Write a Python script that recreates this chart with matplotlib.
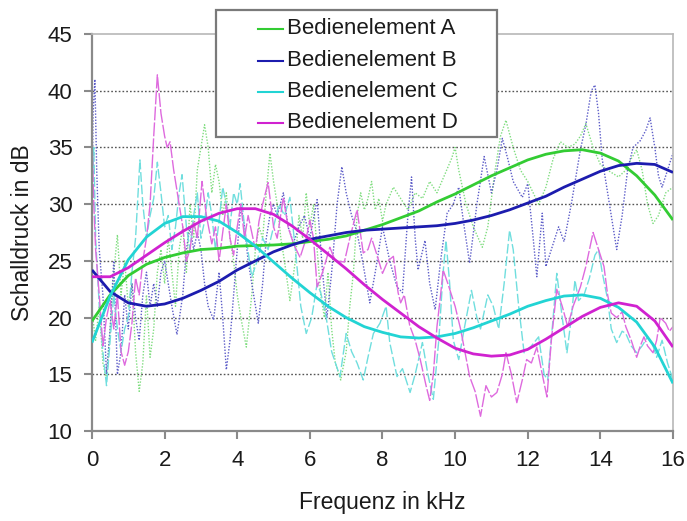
import matplotlib
matplotlib.use("Agg")
import matplotlib.pyplot as plt
from matplotlib.patches import Rectangle
from matplotlib.lines import Line2D

plt.rcParams["font.family"] = ["Liberation Sans", "DejaVu Sans"]

labels = ["Bedienelement A", "Bedienelement B", "Bedienelement C", "Bedienelement D"]

# Measured spectra (kHz, dB)
freq_a = [0.0, 0.1, 0.2, 0.3, 0.4, 0.5, 0.6, 0.7, 0.8, 0.9, 1.0, 1.1, 1.2, 1.3, 1.4, 1.5,
          1.6, 1.7, 1.8, 1.9, 2.0, 2.1, 2.2, 2.3, 2.4, 2.5, 2.6, 2.7, 2.8, 2.9, 3.0, 3.1,
          3.2, 3.3, 3.4, 3.5, 3.6, 3.7, 3.8, 3.9, 4.0, 4.1, 4.25, 4.4, 4.5, 4.6, 4.7, 4.8,
          4.9, 5.0, 5.1, 5.2, 5.3, 5.45, 5.6, 5.7, 5.8, 5.9, 6.0, 6.1, 6.2, 6.3, 6.4, 6.5,
          6.6, 6.7, 6.85, 7.0, 7.1, 7.2, 7.3, 7.4, 7.5, 7.6, 7.7, 7.8, 7.9, 8.0, 8.1, 8.3,
          8.5, 8.7, 8.9, 9.1, 9.3, 9.5, 9.7, 9.9, 10.0, 10.1, 10.3, 10.5, 10.75, 10.9, 11.1,
          11.25, 11.4, 11.6, 11.8, 12.0, 12.3, 12.5, 12.7, 12.9, 13.1, 13.3, 13.45, 13.6,
          13.8, 14.0, 14.2, 14.5, 14.7, 14.85, 15.0, 15.15, 15.3, 15.45, 15.6, 15.8, 16.0]
spl_a = [20.5, 18, 21, 16, 14.5, 19, 24, 27.3, 22, 25, 21, 23, 17, 13.5, 16, 22,
         16.5, 19, 24, 26, 23, 27, 24, 21, 26, 28, 24, 30, 27, 33, 35, 37,
         35, 31, 33.5, 32, 29, 31, 27, 25, 22, 20, 17.4, 22, 26, 28, 27, 31,
         34.5, 32, 30, 27, 25, 21.5, 25, 29, 27, 31, 28, 30, 26, 22, 20, 24,
         19, 16, 14.5, 17, 21, 24, 29, 31, 29.5, 30.5, 32, 29.5, 30.5, 28.5, 30, 31.5,
         30.5, 29.5, 31, 30.5, 32, 31, 32.5, 34, 35, 33, 30, 28, 26.2, 28, 33,
         36, 37.4, 35, 33, 32, 30, 31.5, 34, 35.5, 35, 35.3, 36, 37.1,
         35, 33.5, 33, 32.4, 33, 34, 34.8, 33, 30, 28.3, 29, 31, 31.5]

freq_b = [0.0, 0.03, 0.08, 0.13, 0.2, 0.3, 0.4, 0.5, 0.6, 0.7, 0.8, 0.9, 1.0, 1.1, 1.2,
          1.3, 1.4, 1.5, 1.6, 1.7, 1.8, 1.9, 2.0, 2.1, 2.2, 2.34, 2.5, 2.6, 2.7, 2.8, 2.9,
          3.0, 3.1, 3.2, 3.35, 3.5, 3.6, 3.7, 3.8, 3.9, 4.0, 4.1, 4.2, 4.3, 4.4, 4.58,
          4.7, 4.8, 4.9, 5.0, 5.1, 5.27, 5.4, 5.55, 5.7, 5.85, 6.0, 6.2, 6.35, 6.47, 6.6,
          6.75, 6.88, 7.0, 7.15, 7.3, 7.45, 7.65, 7.8, 8.0, 8.2, 8.4, 8.55, 8.7, 8.8, 8.9,
          8.98, 9.17, 9.3, 9.45, 9.6, 9.78, 9.95, 10.1, 10.25, 10.4, 10.6, 10.8, 11.0,
          11.15, 11.3, 11.45, 11.6, 11.85, 12.0, 12.15, 12.25, 12.4, 12.5, 12.65, 12.85,
          13.0, 13.2, 13.45, 13.6, 13.75, 13.85, 13.95, 14.05, 14.2, 14.35, 14.45, 14.6,
          14.75, 14.9, 15.1, 15.25, 15.37, 15.5, 15.6, 15.7, 15.85, 16.0]
spl_b = [30, 38, 41, 33, 26, 22, 15, 19, 25, 15, 17, 22, 19, 23, 20,
         18, 22, 24, 21, 23, 21, 24, 25, 23, 21, 18.5, 22, 26, 28, 26, 27.5,
         26, 23, 21, 19.8, 24, 20, 15.4, 18, 22, 26, 30, 28, 25, 23, 19.5,
         23, 27, 29, 30, 29, 31, 28, 26.6, 28, 29, 27, 30.4, 24, 20, 24,
         30, 33.3, 31, 29, 27.5, 25, 21.3, 24, 28, 25, 22.7, 22.2, 29, 32.4, 27,
         24.2, 26.8, 23, 20.7, 25, 29.2, 30, 31.5, 28, 24.8, 30, 34.2, 31,
         33, 35.8, 34, 32, 30.6, 31.8, 27, 23.6, 29.2, 24.5, 26, 28,
         26.7, 30, 34.8, 37, 40, 40.5, 38, 34, 31, 28, 26, 29,
         33, 35, 35.6, 36.5, 37.6, 35, 32.5, 31.5, 33, 34.5]

freq_c = [0.0, 0.05, 0.1, 0.2, 0.3, 0.4, 0.5, 0.6, 0.7, 0.8, 0.9, 1.0, 1.1, 1.2, 1.32,
          1.4, 1.5, 1.6, 1.7, 1.8, 1.9, 2.0, 2.1, 2.2, 2.3, 2.4, 2.48, 2.6, 2.7, 2.8, 2.9,
          3.0, 3.1, 3.2, 3.3, 3.4, 3.5, 3.6, 3.7, 3.8, 3.9, 4.0, 4.08, 4.2, 4.4, 4.55,
          4.7, 4.85, 5.0, 5.15, 5.3, 5.45, 5.6, 5.75, 5.9, 6.05, 6.2, 6.3, 6.45, 6.6,
          6.83, 7.0, 7.15, 7.3, 7.47, 7.6, 7.75, 7.93, 8.1, 8.2, 8.4, 8.55, 8.76, 8.9,
          9.1, 9.25, 9.4, 9.55, 9.67, 9.75, 9.85, 9.95, 10.1, 10.25, 10.45, 10.6, 10.7,
          10.9, 11.05, 11.2, 11.35, 11.5, 11.6, 11.75, 11.9, 12.1, 12.3, 12.45, 12.55,
          12.7, 12.8, 12.95, 13.08, 13.2, 13.3, 13.4, 13.55, 13.7, 13.85, 13.95, 14.05,
          14.2, 14.3, 14.45, 14.6, 14.7, 14.85, 15.0, 15.15, 15.3, 15.45, 15.55, 15.7,
          15.85, 16.0]
spl_c = [31, 35, 27, 21, 17, 14, 18, 22, 19, 17, 19, 20, 24, 27, 33.9,
         30, 27, 29, 30.5, 33.7, 31, 28, 29, 26, 28, 31, 32.6, 28, 26, 29, 31,
         27, 28.5, 31, 29, 26, 28.5, 31.5, 30, 28, 31, 30, 31.8, 28, 23.6, 25,
         27, 26, 28, 30, 29, 30.6, 26, 21, 18.6, 20, 23, 22.2, 20, 17,
         14.8, 18.6, 17, 16, 14.5, 16.5, 18.6, 19.5, 21, 17.8, 14.8, 15.5, 13.4, 15,
         17.8, 15, 12.8, 18, 24, 26.8, 23, 18, 16.3, 19, 22.4, 20, 19,
         22, 21, 19, 23, 27.7, 26, 21, 16.9, 17.5, 18.3, 15, 14.5,
         20, 23.9, 20, 16.9, 20, 23.3, 21.5, 22, 23.5, 25.5, 26, 24,
         21.6, 19, 17.8, 18.8, 18.6, 17.5, 16.9, 17.5, 18.3, 17.5, 16.5, 18,
         16, 14.5]

freq_d = [0.0, 0.05, 0.1, 0.2, 0.3, 0.4, 0.5, 0.6, 0.7, 0.8, 0.9, 1.0, 1.1, 1.2, 1.3,
          1.4, 1.5, 1.6, 1.7, 1.8, 1.9, 2.0, 2.07, 2.15, 2.25, 2.4, 2.5, 2.6, 2.7, 2.8,
          2.9, 3.03, 3.15, 3.3, 3.4, 3.5, 3.6, 3.7, 3.8, 3.9, 4.0, 4.1, 4.2, 4.3, 4.4,
          4.5, 4.6, 4.7, 4.85, 5.0, 5.1, 5.27, 5.4, 5.55, 5.73, 5.9, 6.0, 6.1, 6.2, 6.35,
          6.55, 6.7, 6.95, 7.1, 7.3, 7.47, 7.6, 7.7, 7.85, 8.0, 8.15, 8.3, 8.43, 8.5,
          8.6, 8.75, 8.9, 9.04, 9.2, 9.3, 9.4, 9.5, 9.6, 9.67, 9.8, 10.0, 10.15, 10.3,
          10.4, 10.55, 10.7, 10.85, 11.0, 11.15, 11.3, 11.4, 11.55, 11.7, 11.85, 11.97,
          12.1, 12.25, 12.4, 12.53, 12.65, 12.8, 12.95, 13.1, 13.25, 13.45, 13.6, 13.8,
          13.95, 14.1, 14.2, 14.3, 14.45, 14.6, 14.7, 14.85, 15.0, 15.1, 15.2, 15.3,
          15.45, 15.55, 15.65, 15.8, 15.9, 16.0]
spl_d = [36, 30, 26, 22, 17.5, 20, 21.5, 19, 22, 17, 15.8, 17, 19.5, 23.5, 22,
         25, 27, 30, 36, 41.4, 38, 36, 35, 35.5, 33, 30, 28, 25, 26, 28.5,
         27, 32, 29, 26.5, 28, 25, 27.5, 30, 27, 25.5, 28, 30, 27, 29, 27.5,
         26, 28.5, 30, 31.9, 28, 27, 30.6, 28, 26.5, 25.3, 27, 28.6, 27, 22.7, 24,
         26.2, 25, 24.9, 27, 29.5, 25.7, 26, 27, 25.5, 23.9, 25, 25.4, 22.2, 21.3,
         22, 19.3, 18, 16.3, 14, 12.7, 15, 19.2, 22, 24.2, 23, 21, 19, 16.5,
         14.8, 13.5, 11.3, 14, 13, 13.4, 15, 16.9, 15, 12.5, 14.5, 16.3,
         16, 17.4, 15, 13, 18, 22.5, 21, 19.2, 21, 22.7, 24.5, 27.5,
         26, 24.5, 22, 20.4, 20, 20.5, 19.2, 18, 16.5, 17.5, 18.3, 17.5,
         16.9, 18, 20, 19.5, 18.8, 19.2]

# Trend curves, read every 0.5 kHz
freq_trend = [i * 0.5 for i in range(33)]
trend_a = [19.7, 22.0, 23.7, 24.7, 25.3, 25.7, 26.0, 26.1, 26.3, 26.35, 26.4, 26.5,
           26.7, 26.9, 27.2, 27.7, 28.2, 28.8, 29.4, 30.2, 30.9, 31.7, 32.5, 33.2,
           33.9, 34.4, 34.7, 34.8, 34.5, 33.8, 32.5, 30.8, 28.6]
trend_b = [24.2, 22.3, 21.3, 21.0, 21.2, 21.7, 22.4, 23.2, 24.2, 25.0, 25.8, 26.4,
           26.9, 27.2, 27.5, 27.7, 27.8, 27.9, 28.0, 28.1, 28.3, 28.6, 29.0, 29.5,
           30.1, 30.7, 31.5, 32.2, 32.9, 33.4, 33.6, 33.5, 32.8]
trend_c = [17.8, 21.9, 25.1, 27.1, 28.3, 28.9, 28.9, 28.5, 27.5, 26.3, 24.9, 23.5,
           22.2, 21.0, 20.0, 19.2, 18.7, 18.3, 18.2, 18.3, 18.6, 19.1, 19.7, 20.3,
           21.0, 21.5, 21.9, 22.0, 21.7, 20.9, 19.6, 17.4, 14.2]
trend_d = [23.6, 23.6, 24.4, 25.5, 26.6, 27.6, 28.5, 29.2, 29.6, 29.6, 29.1, 28.1,
           26.9, 25.6, 24.3, 22.9, 21.6, 20.4, 19.2, 18.2, 17.3, 16.8, 16.6, 16.7,
           17.2, 18.1, 19.1, 20.1, 20.9, 21.3, 21.0, 19.7, 17.4]

raw_colors = ["#80dd80", "#5c5cc8", "#70dede", "#de6ade"]
trend_colors = ["#33cc33", "#1c1cae", "#22d4d4", "#d022d0"]

fig = plt.figure(figsize=(6.87, 5.21), dpi=100)
ax = fig.add_axes([0.1339, 0.1727, 0.8457, 0.762])

raw = [(freq_a, spl_a, (0, (1, 1.2))),
       (freq_b, spl_b, (0, (1, 1.2))),
       (freq_c, spl_c, (0, (7, 2))),
       (freq_d, spl_d, (0, (10, 1.5)))]
for (f, v, ls), col in zip(raw, raw_colors):
    ax.plot(f, v, color=col, lw=1.0, linestyle=ls, zorder=2)

for tr, col in zip([trend_a, trend_b, trend_c, trend_d], trend_colors):
    ax.plot(freq_trend, tr, color=col, lw=2.0, zorder=3, solid_capstyle="butt")

ax.set_xlim(0, 16)
ax.set_ylim(10, 45)
ax.set_xticks(range(0, 17, 2))
ax.set_yticks(range(10, 46, 5))
for y in range(15, 45, 5):
    ax.axhline(y, color="#555555", lw=1.0, linestyle=(0, (1.2, 1.5)), zorder=1)

for side in ("left", "bottom"):
    ax.spines[side].set_color("#8a8a8a")
    ax.spines[side].set_linewidth(1.6)
for side in ("top", "right"):
    ax.spines[side].set_color("#b8b8b8")
    ax.spines[side].set_linewidth(1.2)
ax.tick_params(direction="out", length=6, width=1.5, color="#8a8a8a",
               labelsize=16, labelcolor="#1a1a1a", pad=8)

ax.set_xlabel("Frequenz in kHz", fontsize=16.5, color="#1a1a1a", labelpad=14)
ax.set_ylabel("Schalldruck in dB", fontsize=16.5, color="#1a1a1a", labelpad=10)

# Legend box drawn by hand, reaching above the plot frame
ax.add_patch(Rectangle((0.213, 0.7406), 0.484, 0.3194, transform=ax.transAxes,
                       facecolor="white", edgecolor="#7a7a7a", lw=1.6,
                       clip_on=False, zorder=10))
rows = [1.013, 0.933, 0.854, 0.776]
for lab, col, yr in zip(labels, trend_colors, rows):
    ax.add_line(Line2D([0.2857, 0.3287], [yr, yr], transform=ax.transAxes,
                       color=col, lw=1.5, clip_on=False, zorder=11))
    ax.text(0.3356, yr, lab, transform=ax.transAxes, fontsize=16,
            color="#1a1a1a", va="center", ha="left", zorder=11)

fig.savefig("out.png", dpi=100)
